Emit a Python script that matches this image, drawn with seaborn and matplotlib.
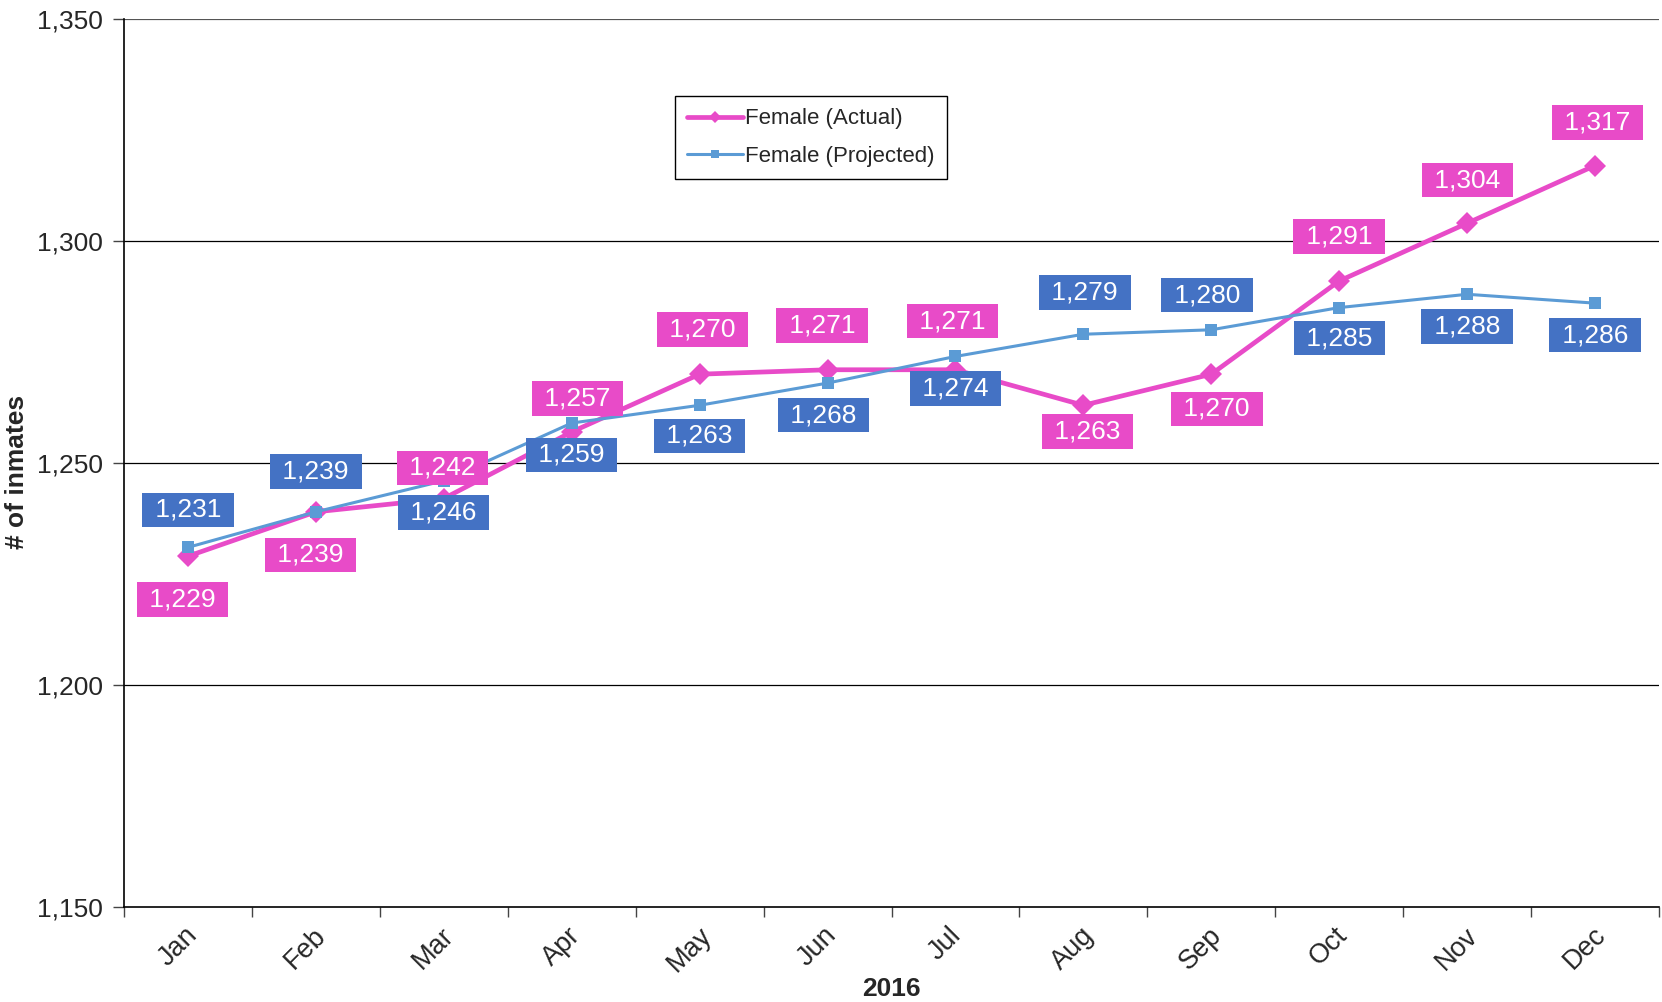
import numpy as np
import pandas as pd
import matplotlib
matplotlib.use("Agg")
import matplotlib.pyplot as plt
import seaborn as sns
from matplotlib.ticker import FuncFormatter, MultipleLocator

# 数据
months = ['Jan', 'Feb', 'Mar', 'Apr', 'May', 'Jun',
          'Jul', 'Aug', 'Sep', 'Oct', 'Nov', 'Dec']
actual = [1229, 1239, 1242, 1257, 1270, 1271, 1271, 1263, 1270, 1291, 1304, 1317]
projected = [1231, 1239, 1246, 1259, 1263, 1268, 1274, 1279, 1280, 1285, 1288, 1286]

# 标签偏移 (points)
actual_off = [(-4, -31), (-4, -31), (-1, 22), (4, 24), (2, 32), (-4, 32),
              (-2, 35), (3, -19), (4, -25), (0, 32), (0, 31), (2, 31)]
proj_off = [(0, 27), (0, 29), (0, -23), (0, -23), (0, -22), (-3, -23),
            (0, -23), (1, 30), (-3, 25), (0, -22), (0, -23), (0, -23)]

PINK = '#E84BC8'
BLUE_BOX = '#4472C4'
BLUE_LINE = '#5B9BD5'
FS = 19

sns.set_theme(style='white')
plt.rcParams['font.family'] = ['Liberation Sans', 'DejaVu Sans']

df = pd.DataFrame({
    'month': months * 2,
    'x': list(range(12)) * 2,
    'value': actual + projected,
    'series': ['Female (Actual)'] * 12 + ['Female (Projected)'] * 12,
})

fig = plt.figure(figsize=(16.62, 10.02), dpi=100)
ax = fig.add_axes([124 / 1662, 1 - 907 / 1002, (1659 - 124) / 1662, (907 - 19) / 1002])

sns.lineplot(data=df[df.series == 'Female (Actual)'], x='x', y='value', ax=ax,
             color=PINK, linewidth=3.4, marker='D', markersize=11,
             markeredgewidth=0, label='Female (Actual)')
sns.lineplot(data=df[df.series == 'Female (Projected)'], x='x', y='value', ax=ax,
             color=BLUE_LINE, linewidth=2.2, marker='s', markersize=9,
             markeredgewidth=0, label='Female (Projected)')

ax.set_xlim(-0.5, 11.5)
ax.set_ylim(1150, 1350)

# 网格线
for yv in [1200, 1250, 1300]:
    ax.axhline(yv, color='black', linewidth=0.9, zorder=0)
ax.axhline(1350, color='#555555', linewidth=1.6, zorder=0)

# 数据标签
for i in range(12):
    ax.annotate(f' {actual[i]:,} ', (i, actual[i]), xytext=actual_off[i],
                textcoords='offset points', ha='center', va='center',
                fontsize=FS, color='white', zorder=5,
                bbox=dict(boxstyle='square,pad=0.2', fc=PINK, ec='none'))
    ax.annotate(f' {projected[i]:,} ', (i, projected[i]), xytext=proj_off[i],
                textcoords='offset points', ha='center', va='center',
                fontsize=FS, color='white', zorder=5,
                bbox=dict(boxstyle='square,pad=0.2', fc=BLUE_BOX, ec='none'))

# 坐标轴 (旋转标签略微左移)
ax.set_xticks(np.arange(12) - 0.08)
ax.set_xticklabels(months, rotation=45, fontsize=FS + 0.5, ha='center')
ax.xaxis.set_minor_locator(MultipleLocator(1, offset=0.5))
ax.tick_params(axis='x', which='major', length=0, pad=11)
ax.tick_params(axis='x', which='minor', length=7, width=1, color='#444444', direction='out', bottom=True)
ax.yaxis.set_major_locator(MultipleLocator(50))
ax.yaxis.set_major_formatter(FuncFormatter(lambda v, p: f'{int(v):,}'))
ax.tick_params(axis='y', length=8, width=1, color='#444444', direction='out', left=True,
               labelsize=FS, pad=7)

for s in ['top', 'right']:
    ax.spines[s].set_visible(False)
for s in ['left', 'bottom']:
    ax.spines[s].set_color('black')
    ax.spines[s].set_linewidth(1.2)

ax.set_xlabel('2016', fontsize=FS, fontweight='bold', labelpad=0)
ax.set_ylabel('# of inmates', fontsize=FS, fontweight='bold')
ax.yaxis.set_label_coords(-0.062, 0.49)

leg = ax.legend(loc='upper left', bbox_to_anchor=(0.359, 0.913), fontsize=16,
                frameon=True, fancybox=False, framealpha=1, edgecolor='black',
                handlelength=2.5, handletextpad=0.1, borderpad=0.55, labelspacing=0.75,
                borderaxespad=0, markerscale=0.6)
leg.get_frame().set_linewidth(1.0)

fig.savefig('out.png', dpi=100)
